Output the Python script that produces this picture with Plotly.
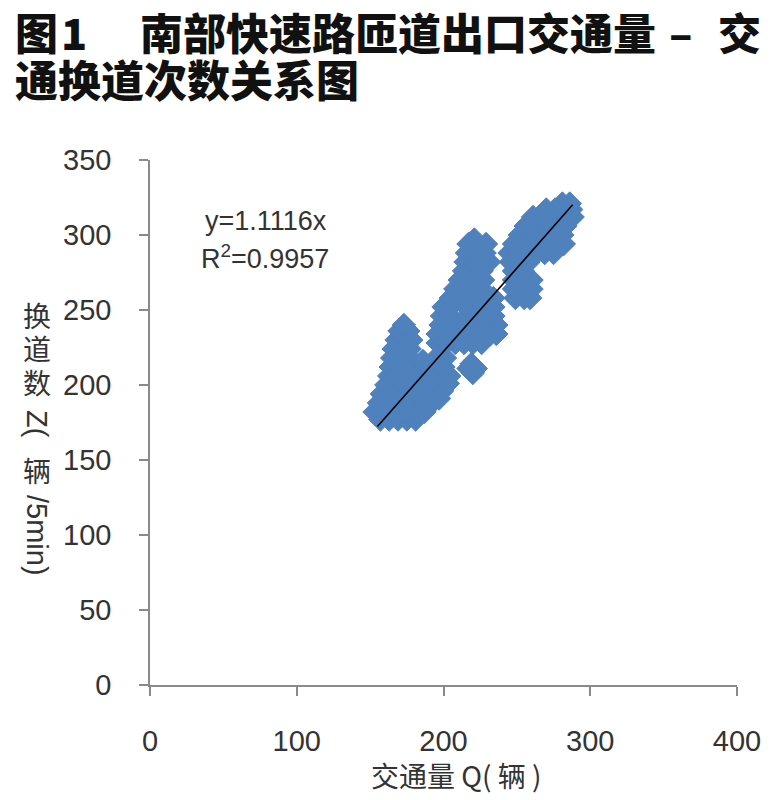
import plotly.graph_objects as go

# ---- data ----
traffic_q = [
    157, 163, 169, 175, 181,
    153, 159, 165, 171, 177, 183, 187,
    156, 162, 168, 174, 180, 186, 192, 197,
    158, 164, 170, 176, 182, 188, 194, 199,
    161, 167, 173, 179, 185, 191, 197, 203,
    163, 169, 175, 181, 187, 193, 199, 204,
    164, 170, 176, 182, 188, 194, 200,
    165, 171, 177, 186, 195, 201,
    166, 172, 177,
    168, 174, 178,
    170, 176,
    173,
    217, 222, 219, 220,
    196, 202, 208, 214, 220, 226,
    196, 202, 208, 214, 220, 226, 232, 236,
    198, 204, 210, 216, 222, 228, 234, 236,
    199, 204, 216, 222, 228, 234,
    200, 209, 216, 222, 228, 234,
    205, 211, 217, 223, 229, 234,
    208, 214, 220, 226,
    211, 217, 223, 227,
    214, 220, 226,
    215, 221, 227, 231,
    216, 222, 228,
    217, 223, 229,
    221,
    249, 255, 259,
    248, 254, 260,
    248, 254, 260,
    248, 254,
    246, 252, 258,
    245, 251, 257, 263, 269, 275,
    248, 254, 260, 266, 272, 278, 282,
    252, 258, 264, 270, 276, 281,
    256, 262, 268, 274, 280, 283,
    261, 267, 273, 279, 285, 288,
    270, 276, 282, 287,
    281, 286,
]
lane_changes_z = [
    177, 177, 177, 177, 177,
    182, 182, 182, 182, 182, 182, 182,
    188, 188, 188, 188, 188, 188, 188, 191,
    194, 194, 194, 194, 194, 194, 194, 196,
    200, 200, 200, 200, 200, 200, 200, 201,
    206, 206, 206, 206, 206, 206, 206, 206,
    212, 212, 212, 212, 212, 212, 212,
    218, 218, 218, 216, 218, 218,
    224, 224, 224,
    230, 230, 230,
    236, 236,
    240,
    211, 211, 214, 208,
    228, 228, 228, 228, 228, 228,
    234, 234, 234, 234, 234, 234, 234, 234,
    240, 240, 240, 240, 240, 240, 240, 240,
    246, 246, 246, 246, 246, 246,
    252, 256, 252, 252, 252, 252,
    258, 258, 258, 258, 258, 258,
    264, 264, 264, 264,
    270, 270, 270, 270,
    276, 276, 276,
    282, 282, 282, 282,
    288, 288, 288,
    294, 294, 294,
    297,
    258, 258, 258,
    264, 264, 264,
    270, 270, 270,
    276, 276,
    282, 282, 282,
    288, 288, 288, 288, 288, 288,
    294, 294, 294, 294, 294, 294, 294,
    300, 300, 300, 300, 300, 300,
    306, 306, 306, 306, 306, 306,
    312, 312, 312, 312, 312, 312,
    317, 317, 317, 317,
    321, 321,
]
trend_slope = 1.1116
trend_q_range = [155, 288]
x_ticks = [0, 100, 200, 300, 400]
y_ticks = [0, 50, 100, 150, 200, 250, 300, 350]

blue = "#4f81bd"
axis_grey = "#8a8a8a"
txt = "#333333"
num_font = "Liberation Sans, Arial, sans-serif"
cjk_font = "Noto Sans CJK SC"

# the page body has an 8px margin; the figure is sized so that it ends at the window edge
OFF = 8
W, H = 777 - OFF, 800 - OFF
L, R_, T, B = 150, 737, 160, 685          # plot area in window pixels

fig = go.Figure()
fig.add_trace(go.Scatter(
    x=traffic_q, y=lane_changes_z, mode="markers",
    marker=dict(symbol="diamond", size=18, color=blue,
                line=dict(color=blue, width=1)),
    showlegend=False, hoverinfo="skip"))
fig.add_trace(go.Scatter(
    x=trend_q_range, y=[trend_slope * q for q in trend_q_range],
    mode="lines", line=dict(color="black", width=1.6),
    showlegend=False, hoverinfo="skip"))

fig.update_layout(
    width=W, height=H,
    margin=dict(l=L - OFF, r=777 - R_, t=T - OFF, b=800 - B),
    paper_bgcolor="white", plot_bgcolor="white",
    xaxis=dict(range=[0, 400], tickvals=x_ticks, showgrid=False, zeroline=False,
               showline=True, linecolor=axis_grey, linewidth=1.5,
               ticks="outside", ticklen=9, tickwidth=1.5, tickcolor=axis_grey,
               ticklabelstandoff=20,
               tickfont=dict(family=num_font, size=29, color=txt)),
    yaxis=dict(range=[0, 350], tickvals=y_ticks, showgrid=False, zeroline=False,
               showline=True, linecolor=axis_grey, linewidth=1.5,
               ticks="outside", ticklen=9, tickwidth=1.5, tickcolor=axis_grey,
               ticklabelstandoff=22,
               tickfont=dict(family=num_font, size=29, color=txt)),
)

def px(xp):
    return (xp - L) / (R_ - L)

def py(yp):
    return (B - yp) / (B - T)

ann = []
# equation text
ann.append(dict(x=px(203), y=py(221), xref="paper", yref="paper", text="y=1.1116x",
                showarrow=False, xanchor="left", yanchor="middle",
                font=dict(family=num_font, size=27, color=txt)))
ann.append(dict(x=px(199), y=py(257), xref="paper", yref="paper", text="R<sup>2</sup>=0.9957",
                showarrow=False, xanchor="left", yanchor="middle",
                font=dict(family=num_font, size=27, color=txt)))

# y-axis title (vertical layout: CJK upright, Latin rotated)
ycx = 37
for ch, yc in [("换", 315), ("道", 348), ("数", 382)]:
    ann.append(dict(x=px(ycx), y=py(yc), xref="paper", yref="paper", text=ch,
                    showarrow=False, xanchor="center", yanchor="middle",
                    font=dict(family=cjk_font, size=28, color=txt)))
ann.append(dict(x=px(ycx), y=py(424), xref="paper", yref="paper", text="Z(",
                showarrow=False, xanchor="center", yanchor="middle", textangle=90,
                font=dict(family=num_font, size=29, color=txt)))
ann.append(dict(x=px(ycx), y=py(470), xref="paper", yref="paper", text="辆",
                showarrow=False, xanchor="center", yanchor="middle",
                font=dict(family=cjk_font, size=28, color=txt)))
ann.append(dict(x=px(ycx), y=py(535), xref="paper", yref="paper", text="/5min)",
                showarrow=False, xanchor="center", yanchor="middle", textangle=90,
                font=dict(family=num_font, size=29, color=txt)))

# x-axis title
ann.append(dict(x=px(456), y=py(775), xref="paper", yref="paper", text="交通量 Q( 辆 )",
                showarrow=False, xanchor="center", yanchor="middle",
                font=dict(family=cjk_font, size=28, color=txt)))

# figure title
tfont = dict(family=cjk_font, size=43, color="#111111", weight=900)
ann.append(dict(x=px(13), y=py(31), xref="paper", yref="paper", text="图",
                showarrow=False, xanchor="left", yanchor="middle", font=tfont))
ann.append(dict(x=px(74), y=py(31), xref="paper", yref="paper", text="1",
                showarrow=False, xanchor="center", yanchor="middle", font=tfont))
ann.append(dict(x=px(138), y=py(31), xref="paper", yref="paper", text="南部快速路匝道出口交通量",
                showarrow=False, xanchor="left", yanchor="middle", font=tfont))
ann.append(dict(x=px(681), y=py(31), xref="paper", yref="paper", text="–",
                showarrow=False, xanchor="center", yanchor="middle", font=tfont))
ann.append(dict(x=px(740), y=py(31), xref="paper", yref="paper", text="交",
                showarrow=False, xanchor="center", yanchor="middle", font=tfont))
ann.append(dict(x=px(13), y=py(78), xref="paper", yref="paper", text="通换道次数关系图",
                showarrow=False, xanchor="left", yanchor="middle", font=tfont))

fig.update_layout(annotations=ann)
fig.write_html("out.html")
